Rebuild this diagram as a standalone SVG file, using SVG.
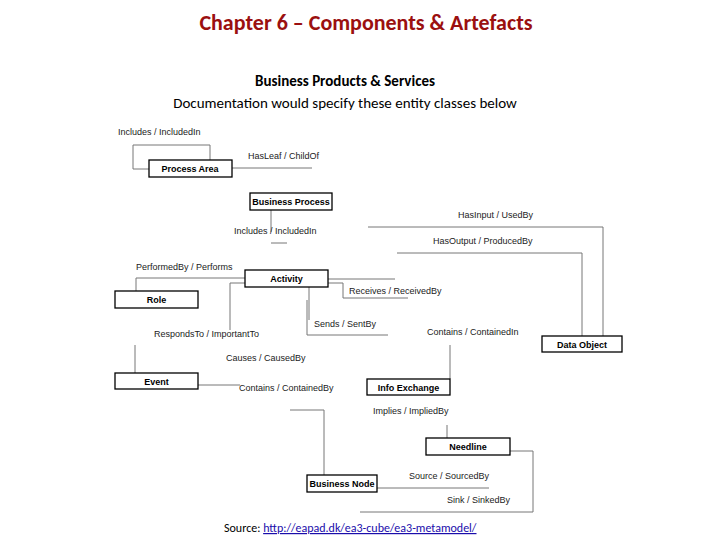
<svg xmlns="http://www.w3.org/2000/svg" width="720" height="540" viewBox="0 0 720 540">
<style>
.b{fill:#fff;stroke:#000;stroke-width:1.3}
.n{font:bold 9px "Liberation Sans",Arial,sans-serif;text-anchor:middle}
.l{font:9px "Liberation Sans",Arial,sans-serif;fill:#222}
.c{fill:none;stroke:#777;stroke-width:1}
.h{font:15px "Carlito","Liberation Sans",sans-serif;text-anchor:middle}
</style>
<rect width="720" height="540" fill="#fff"/>
<text x="366" y="30" text-anchor="middle" style="font:bold 22px Carlito,'Liberation Sans',sans-serif" fill="#9b1010">Chapter 6 – Components &amp; Artefacts</text>
<text x="345" y="86" class="h" style="font-weight:bold">Business Products &amp; Services</text>
<text x="345" y="108" class="h">Documentation would specify these entity classes below</text>
<g id="connectors">
<path class="c" d="M149 169H133V145H210V160"/>
<path class="c" d="M232 168H312"/>
<path class="c" d="M271 210V232M271 243H287"/>
<path class="c" d="M245 278H136V291"/>
<path class="c" d="M245 283H230V330"/>
<path class="c" d="M309 287V320"/>
<path class="c" d="M328 279H395M328 283H343V298H408"/>
<path class="c" d="M307 300V335H388"/>
<path class="c" d="M368 227H603V336"/>
<path class="c" d="M397 253H582V336"/>
<path class="c" d="M450 345V379"/>
<path class="c" d="M135 345V373"/>
<path class="c" d="M198 385H240"/>
<path class="c" d="M290 410H324V475"/>
<path class="c" d="M447 425V438"/>
<path class="c" d="M510 451H533V512H360"/>
<path class="c" d="M377 488H489"/>
</g>
<g class="l">
<text x="118" y="135">Includes / IncludedIn</text>
<text x="248" y="159">HasLeaf / ChildOf</text>
<text x="234" y="234">Includes / IncludedIn</text>
<text x="136" y="270">PerformedBy / Performs</text>
<text x="458" y="218">HasInput / UsedBy</text>
<text x="433" y="244">HasOutput / ProducedBy</text>
<text x="349" y="294">Receives / ReceivedBy</text>
<text x="314" y="327">Sends / SentBy</text>
<text x="427" y="335">Contains / ContainedIn</text>
<text x="154" y="337">RespondsTo / ImportantTo</text>
<text x="226" y="361">Causes / CausedBy</text>
<text x="239" y="391">Contains / ContainedBy</text>
<text x="373" y="414">Implies / ImpliedBy</text>
<text x="409" y="479">Source / SourcedBy</text>
<text x="447" y="503">Sink / SinkedBy</text>
</g>
<g id="process-area"><rect class="b" x="149" y="160" width="83" height="17"/><text class="n" x="190" y="171.5">Process Area</text></g>
<g id="business-process"><rect class="b" x="250" y="193" width="82" height="17"/><text class="n" x="291" y="205">Business Process</text></g>
<g id="activity"><rect class="b" x="245" y="270" width="83" height="17"/><text class="n" x="286.5" y="282">Activity</text></g>
<g id="role"><rect class="b" x="115" y="291" width="83" height="17"/><text class="n" x="156.5" y="303">Role</text></g>
<g id="data-object"><rect class="b" x="542" y="336" width="80" height="16"/><text class="n" x="582" y="347.5">Data Object</text></g>
<g id="event"><rect class="b" x="115" y="373" width="83" height="16"/><text class="n" x="156.5" y="384.5">Event</text></g>
<g id="info-exchange"><rect class="b" x="367" y="379" width="83" height="16"/><text class="n" x="408.5" y="390.5">Info Exchange</text></g>
<g id="needline"><rect class="b" x="426" y="438" width="84" height="17"/><text class="n" x="468" y="450">Needline</text></g>
<g id="business-node"><rect class="b" x="307" y="475" width="70" height="17"/><text class="n" x="342" y="487">Business Node</text></g>
<text x="224" y="532" style="font:12px Carlito,'Liberation Sans',sans-serif">Source: <tspan fill="#1a0dab" text-decoration="underline">http://eapad.dk/ea3-cube/ea3-metamodel/</tspan></text>
</svg>
